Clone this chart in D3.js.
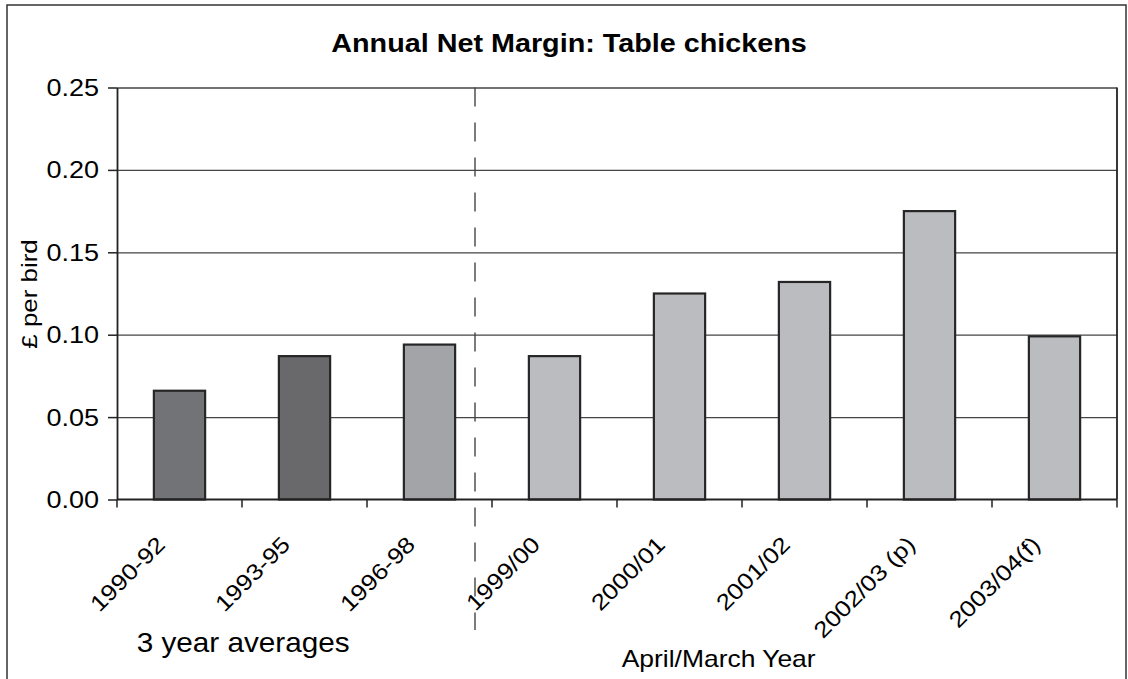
<!DOCTYPE html>
<html>
<head>
<meta charset="utf-8">
<script src="https://cdn.jsdelivr.net/npm/d3@7"></script>
<style>
  html, body { margin: 0; padding: 0; background: #fff; }
  svg { display: block; }
  text { font-family: "Liberation Sans", Arial, Helvetica, sans-serif; fill: #000; }
</style>
</head>
<body>
<svg id="chart" width="1128" height="679"></svg>
<script>
// ---- data ----
const categories = ["1990-92", "1993-95", "1996-98", "1999/00", "2000/01", "2001/02", "2002/03 (p)", "2003/04(f)"];
const values = [0.066, 0.087, 0.094, 0.087, 0.125, 0.132, 0.175, 0.099];
const barColors = ["#727376", "#69696b", "#a3a4a7", "#bbbcbf", "#bbbcbf", "#bbbcbf", "#bbbcbf", "#bbbcbf"];
const yTicks = [0.00, 0.05, 0.10, 0.15, 0.20, 0.25];
const title = "Annual Net Margin: Table chickens";
const yTitle = "£ per bird";
const leftNote = "3 year averages";
const rightNote = "April/March Year";

// ---- layout ----
const W = 1128, H = 679;
const plot = { left: 117, right: 1117, top: 87.5, bottom: 499.5 };
const SX = 1.15; // horizontal glyph stretch seen in the reference
const svg = d3.select("#chart");

// outer frame
svg.append("rect").attr("x", 7).attr("y", 5).attr("width", 1119).attr("height", 690)
  .attr("fill", "none").attr("stroke", "#333").attr("stroke-width", 1.5);

const x = d3.scaleBand().domain(categories).range([plot.left, plot.right])
  .paddingInner(0.59).paddingOuter(0.295);
const y = d3.scaleLinear().domain([0, 0.25]).range([plot.bottom, plot.top]);
const halfGap = (x.step() - x.bandwidth()) / 2;

// gridlines
const grid = svg.append("g").attr("transform", `translate(${plot.left},0)`)
  .call(d3.axisLeft(y).tickValues(yTicks.slice(1)).tickSize(-(plot.right - plot.left)).tickFormat(""));
grid.select(".domain").remove();
grid.selectAll("line").attr("stroke", "#444").attr("stroke-width", 1.3);

// y axis with outward ticks
const yAxis = svg.append("g").attr("transform", `translate(${plot.left},0)`)
  .call(d3.axisLeft(y).tickValues(yTicks).tickSize(9).tickSizeOuter(0).tickFormat(""));
yAxis.select(".domain").attr("stroke", "#222").attr("stroke-width", 1.8);
yAxis.selectAll("line").attr("stroke", "#222").attr("stroke-width", 1.5);

// right border of plot
svg.append("line").attr("x1", plot.right).attr("x2", plot.right)
  .attr("y1", y(0.25)).attr("y2", y(0)).attr("stroke", "#222").attr("stroke-width", 1.8);

// bars
svg.append("g").selectAll("rect").data(categories).join("rect")
  .attr("x", d => x(d))
  .attr("y", (d, i) => y(values[i]))
  .attr("width", x.bandwidth())
  .attr("height", (d, i) => y(0) - y(values[i]))
  .attr("fill", (d, i) => barColors[i])
  .attr("stroke", "#262626").attr("stroke-width", 2.2);

// x axis line + boundary ticks
svg.append("line").attr("x1", plot.left).attr("x2", plot.right)
  .attr("y1", y(0)).attr("y2", y(0)).attr("stroke", "#222").attr("stroke-width", 1.8);
const bounds = categories.map(c => x(c) - halfGap).concat([x(categories[categories.length - 1]) + x.bandwidth() + halfGap]);
svg.append("g").selectAll("line").data(bounds).join("line")
  .attr("x1", d => d).attr("x2", d => d)
  .attr("y1", y(0)).attr("y2", y(0) + 8)
  .attr("stroke", "#222").attr("stroke-width", 1.5);

// dashed separator
const sepX = x(categories[3]) - halfGap - 17;
svg.append("line").attr("x1", sepX).attr("x2", sepX)
  .attr("y1", plot.top).attr("y2", 630)
  .attr("stroke", "#444").attr("stroke-width", 1.4).attr("stroke-dasharray", "19,16");

// y tick labels
svg.append("g").selectAll("text").data(yTicks).join("text")
  .attr("transform", d => `translate(99,${y(d) + 8.5}) scale(${SX},1)`)
  .attr("text-anchor", "end").attr("font-size", 23.5)
  .text(d => d3.format(".2f")(d));

// x category labels
svg.append("g").selectAll("text").data(categories).join("text")
  .attr("transform", d => `translate(${x(d) + x.bandwidth() / 2 - 13},546) rotate(-45) scale(${SX},1)`)
  .attr("text-anchor", "end").attr("font-size", 22.5)
  .text(d => d);

// y title
svg.append("text")
  .attr("transform", `translate(37,294) rotate(-90) scale(${SX},1)`)
  .attr("text-anchor", "middle").attr("font-size", 22.5)
  .text(yTitle);

// title
svg.append("text")
  .attr("transform", `translate(569,51.7) scale(${SX},1)`)
  .attr("text-anchor", "middle").attr("font-size", 25).attr("font-weight", "bold")
  .text(title);

// notes
svg.append("text")
  .attr("transform", `translate(136.7,651.7) scale(1.1,1)`)
  .attr("font-size", 27).text(leftNote);
svg.append("text")
  .attr("transform", `translate(621.7,666.7) scale(${SX},1)`)
  .attr("font-size", 23).text(rightNote);
</script>
</body>
</html>
